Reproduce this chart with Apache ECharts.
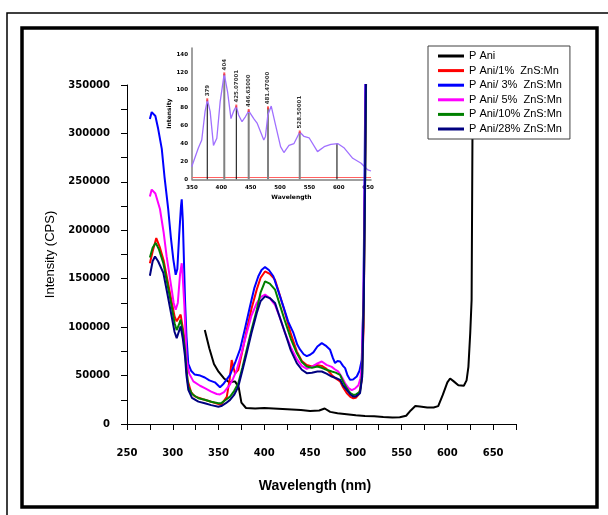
<!DOCTYPE html>
<html><head><meta charset="utf-8">
<script src="https://cdn.jsdelivr.net/npm/echarts@6/dist/echarts.min.js"></script>
<style>html,body{margin:0;padding:0;background:#fff}#c{width:608px;height:515px}</style>
</head><body><div id="c"></div>
<script>
// ---------- Main chart data (wavelength nm, intensity CPS) ----------
const seriesNames = ['P Ani', 'P Ani/1%  ZnS:Mn', 'P Ani/ 3%  ZnS:Mn', 'P Ani/ 5%  ZnS:Mn', 'P Ani/10% ZnS:Mn', 'P Ani/28% ZnS:Mn'];
const seriesColors = ['#000000', '#ff0000', '#0000ff', '#ff00ff', '#008000', '#000080'];

const pani = [[335,97000],[340,78000],[345,62000],[350,54000],[356,47000],[362,43000],[368,44000],[372,38000],[375,22000],[380,16500],[390,16000],[400,16500],[410,16000],[420,15500],[430,15000],[440,14500],[450,13500],[460,14000],[466,16000],[472,12500],[480,11000],[490,10000],[500,9000],[510,8300],[520,8000],[530,7200],[540,6800],[548,7000],[555,8500],[560,14000],[565,18500],[570,18000],[578,17000],[585,17000],[590,18500],[595,30000],[600,43000],[603,47000],[607,44000],[612,40000],[618,39500],[621,45000],[623,59000],[625,94000],[626.5,128000],[628,400000]];

const pani1 = [[275,166000],[278,178000],[282,192000],[286,182000],[290,169000],[297,135000],[302,111000],[304.3,106000],[308.6,113000],[313,87000],[316,46000],[320,33000],[324,28500],[333,25500],[342,23000],[350,20500],[353,20000],[359,28000],[362,45000],[364.4,66000],[366,68000],[368,52000],[371.6,56000],[376,75000],[380.8,97000],[386,119000],[391.8,139000],[396,151000],[400.8,157500],[406,155000],[411.7,149000],[417,133000],[422.7,114600],[429,93000],[435.5,75000],[441,65000],[446.4,61000],[452,59500],[457,61000],[462.8,60000],[468,57000],[473.7,50700],[478,47000],[482.8,44000],[486,38000],[490,32000],[494,28000],[497.3,26600],[500,27000],[502.8,30000],[505,37000],[506.5,46000],[508.5,100000],[510,250000],[512,420000]];

const pani3 = [[275,315000],[277,322000],[279,323000],[281,318000],[284,305000],[288,284000],[291,255000],[295,222000],[298,192000],[300.6,170000],[303.2,154000],[305,160000],[307,195000],[309,225000],[309.8,232000],[311,210000],[313.4,128000],[315,90000],[317,62000],[320,55000],[324,51000],[330,50000],[335,48000],[340,45000],[346,43000],[351.6,38000],[355,41000],[359,46000],[362.6,50700],[368,63000],[373.5,77000],[379,99000],[384.4,121500],[389,140000],[393.5,152500],[397,159000],[400.8,162000],[405,159000],[409.9,152500],[415,138000],[420.8,121500],[426,106000],[431.8,94000],[436,82000],[439,77000],[443,72000],[446.4,70000],[450,71500],[453.6,74000],[458,80000],[462.8,83500],[467,81000],[471.9,76600],[475,68000],[477.3,63000],[480,65000],[482.8,64500],[486,60000],[488.3,57700],[491,50000],[493.7,45600],[497,46000],[501,49000],[504,55000],[506.5,66000],[508.3,128000],[509.5,250000],[511,420000]];

const pani5 = [[275,235000],[277,242000],[278.7,244000],[281,238000],[286,222000],[290,198000],[293.3,173000],[298.8,139000],[301,125000],[303.2,118000],[305.5,125000],[308,155000],[309.8,166000],[311,150000],[312.7,121500],[315.2,66000],[318,52000],[322.5,44000],[329.8,39500],[335,37000],[342,33500],[348,31000],[351.6,30500],[356,33000],[362.6,41000],[366,47000],[369.9,56000],[375,73000],[380.8,94000],[386,112000],[391.8,125000],[396,131000],[400.8,133600],[406,130000],[411.7,123000],[417,110000],[422.7,94000],[429,79000],[435.5,67000],[441,60000],[446.4,57000],[450,58500],[453.6,60000],[458,62500],[462.8,64500],[468,61000],[473.7,59000],[477,56500],[481,54000],[485,48000],[488.3,42000],[492,37000],[495.6,35000],[499,36500],[502.8,40000],[505,47000],[506.5,59000],[508.4,130000],[510,260000],[511.5,420000]];

const pani10 = [[275,172000],[278,182000],[281.4,187000],[285,180000],[289.7,166000],[294,145000],[298.8,121500],[302,104000],[304.3,97000],[306.5,102000],[308.6,107700],[311,95000],[313.4,76600],[315,55000],[317,38600],[321,31000],[328,26600],[335,25000],[342,23000],[349.8,21400],[353,21500],[358,25000],[362.6,28300],[367,34000],[371.6,42100],[376,58000],[380.8,76600],[386,97000],[391.8,118000],[396,136000],[400.8,147300],[406,145000],[411.7,138800],[417,123000],[422.7,105900],[429,88000],[435.5,73200],[441,64000],[446.4,59300],[452,58000],[458,59300],[462.8,58000],[468,56000],[473.7,54200],[478,53000],[482.8,50700],[486,44000],[490,37000],[494,32000],[497.3,30000],[500,30500],[504.6,33400],[507,52500],[508.7,130000],[510.3,260000],[511.8,420000]];

const pani28 = [[275,153000],[278,168000],[280.6,173000],[284,168000],[289.7,156000],[294,135000],[298.8,111000],[302,95000],[304.3,88700],[306.5,95000],[308.6,100800],[311,88000],[313.4,69700],[315,50000],[317,35200],[321,27000],[328,23100],[335,21500],[342,19500],[349.8,17900],[353,18500],[358,21500],[362.6,24900],[367,30000],[371.6,38600],[376,55000],[380.8,73200],[386,94000],[391.8,114600],[396,127000],[400.8,131800],[406,130000],[411.7,125000],[417,110000],[422.7,93900],[429,76000],[435.5,62800],[441,56000],[446.4,52500],[452,53000],[458,54200],[462.8,54200],[468,52000],[473.7,49000],[478,47500],[482.8,45600],[486,40000],[490,35200],[494,30500],[497.3,28300],[500,28500],[504.6,31800],[507,49000],[508.7,130000],[510.2,260000],[511.6,420000]];

const mainData = [pani, pani1, pani3, pani5, pani10, pani28];

// ---------- Inset (PL spectrum) data ----------
const insetSpectrum = [[349.5,14],[360.8,35],[366.6,44],[372.3,76],[376.3,89],[380.9,76],[386.6,38],[392.3,46],[398,87],[404.9,118],[410.6,98],[416.4,68],[420.8,76],[425.5,82],[429.4,72],[435.2,64.5],[440.9,70],[446.6,76.5],[455.2,68],[460.9,63],[472.3,44],[475.2,48],[479.2,72],[485,82],[492.3,61],[500.9,36.5],[506.6,30],[515.2,38],[523.8,40],[533.6,53],[540.9,48],[549.5,46.5],[563.9,31],[575.2,36.5],[586.7,39],[598.2,40],[609.5,35],[623.9,23.5],[638.2,18],[649.7,10.5],[655,9.3]];
const insetBaseline = [[350,2],[655,2]];
const peakWl = [376, 405, 425.5, 446.6, 479.5, 533.6, 597];
const peakInt = [89, 118, 82, 77, 80, 53, 40];
const peakText = ['379', '404', '425.07001', '446.63000', '481.47000', '528.50001', ''];
const peakColor = ['#000000', '#808080', '#000000', '#808080', '#808080', '#808080', '#000000'];
const peakWidth = [1, 2, 1, 2, 2, 2, 1];

// ---------- Build option ----------
const series = [];
mainData.forEach((d, i) => {
  series.push({
    name: seriesNames[i], type: 'line', data: d, xAxisIndex: 0, yAxisIndex: 0,
    showSymbol: false, symbol: 'none', lineStyle: { color: seriesColors[i], width: 2 },
    itemStyle: { color: seriesColors[i] }, z: 3, clip: true, animation: false
  });
});
series.push({
  type: 'line', data: insetBaseline, xAxisIndex: 1, yAxisIndex: 1, symbol: 'none',
  lineStyle: { color: '#ff6060', width: 1.2 }, z: 1, animation: false, silent: true
});
peakWl.forEach((w, i) => {
  series.push({
    type: 'line', data: [[w, 0], [w, peakInt[i]]], xAxisIndex: 1, yAxisIndex: 1, symbol: 'none',
    lineStyle: { color: peakColor[i], width: peakWidth[i] }, z: 1, animation: false, silent: true
  });
});
series.push({
  type: 'line', data: insetSpectrum, xAxisIndex: 1, yAxisIndex: 1, symbol: 'none',
  lineStyle: { color: '#a070ff', width: 1.3 }, z: 2, animation: false, silent: true
});
series.push({
  type: 'scatter', xAxisIndex: 1, yAxisIndex: 1, z: 2, animation: false, silent: true,
  data: peakWl.slice(0, 6).map((w, i) => ({ value: [w, peakInt[i]], name: peakText[i] })),
  symbol: 'rect', symbolSize: [2, 3], itemStyle: { color: '#ff3030' },
  label: {
    show: true, formatter: p => p.name, position: 'top', distance: 2, rotate: 90,
    align: 'left', verticalAlign: 'middle',
    fontSize: 5.5, fontWeight: 'bold', color: '#000', fontFamily: 'DejaVu Sans'
  }
});

const boldLbl = { fontFamily: 'DejaVu Sans', fontWeight: 'bold', fontSize: 10, color: '#000' };
const option = {
  animation: false,
  backgroundColor: '#ffffff',
  grid: [
    { left: 127, top: 85, width: 389, height: 339 },
    { left: 192, top: 48, width: 179, height: 131.3 }
  ],
  xAxis: [
    {
      gridIndex: 0, type: 'value', min: 250, max: 675, interval: 25,
      axisLine: { show: true, onZero: false, lineStyle: { color: '#000', width: 1 } },
      axisTick: { show: true, length: 6, lineStyle: { color: '#000' } },
      splitLine: { show: false },
      axisLabel: Object.assign({ margin: 24, formatter: v => (v % 50 === 0 ? String(v) : '') }, boldLbl),
      name: 'Wavelength (nm)', nameLocation: 'middle', nameGap: 55,
      nameTextStyle: { fontFamily: 'Liberation Sans', fontWeight: 'bold', fontSize: 14, color: '#000', padding: [0, 13, 0, 0] }
    },
    {
      gridIndex: 1, type: 'value', min: 350, max: 655, interval: 50,
      axisLine: { show: true, onZero: false, lineStyle: { color: '#808080', width: 1.5 } },
      axisTick: { show: false }, splitLine: { show: false },
      axisLabel: { showMaxLabel: false, margin: 5, fontSize: 5.5, fontWeight: 'bold', fontFamily: 'DejaVu Sans', color: '#000' },
      name: 'Wavelength', nameLocation: 'middle', nameGap: 15,
      nameTextStyle: { fontSize: 6, fontWeight: 'bold', fontFamily: 'DejaVu Sans', color: '#000', padding: [0, 0, 0, 20] }
    }
  ],
  yAxis: [
    {
      gridIndex: 0, type: 'value', min: 0, max: 350000, interval: 25000,
      axisLine: { show: true, onZero: false, lineStyle: { color: '#000', width: 1 } },
      axisTick: { show: true, length: 6, lineStyle: { color: '#000' } },
      splitLine: { show: false },
      axisLabel: Object.assign({ margin: 17, formatter: v => (v % 50000 === 0 ? String(v) : '') }, boldLbl),
      name: 'Intensity (CPS)', nameLocation: 'middle', nameGap: 70,
      nameTextStyle: { fontFamily: 'Liberation Sans', fontSize: 13, color: '#000' }
    },
    {
      gridIndex: 1, type: 'value', min: 0, max: 147, interval: 20,
      axisLine: { show: true, onZero: false, lineStyle: { color: '#808080', width: 1.5 } },
      axisTick: { show: false }, splitLine: { show: false },
      axisLabel: { showMaxLabel: false, margin: 4, fontSize: 5.5, fontWeight: 'bold', fontFamily: 'DejaVu Sans', color: '#000' },
      name: 'Intensity', nameLocation: 'middle', nameGap: 18,
      nameTextStyle: { fontSize: 6, fontWeight: 'bold', fontFamily: 'DejaVu Sans', color: '#000' }
    }
  ],
  legend: {
    data: seriesNames, orient: 'vertical', left: 428, top: 46, z: 20,
    icon: 'rect', itemWidth: 26, itemHeight: 3, itemGap: 2.6,
    padding: [4, 8, 4, 10],
    backgroundColor: '#ffffff', borderColor: '#404040', borderWidth: 1,
    textStyle: { fontFamily: 'Liberation Sans', fontSize: 11, color: '#000', lineHeight: 12 },
    selectedMode: false
  },
  graphic: [
    { type: 'rect', shape: { x: 7, y: 13, width: 640, height: 540 }, style: { fill: 'none', stroke: '#000', lineWidth: 1.5 }, silent: true },
    { type: 'rect', shape: { x: 22, y: 28, width: 575, height: 479 }, style: { fill: 'none', stroke: '#000', lineWidth: 3.5 }, silent: true }
  ],
  series: series
};
const chart = echarts.init(document.getElementById('c'), null, { renderer: 'canvas' });
chart.setOption(option);
</script></body></html>
